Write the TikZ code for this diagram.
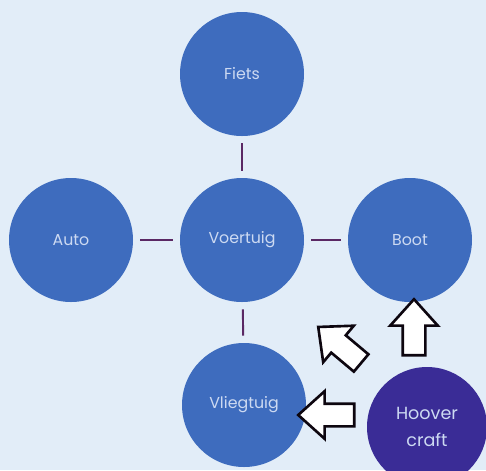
\documentclass[tikz,border=0pt]{standalone}
\usepackage{fontspec}
\setmainfont{Poppins}
\usepackage{tikz}
\usetikzlibrary{shapes.geometric}
\usetikzlibrary{arrows,shapes}

\definecolor{achter}{RGB}{226,237,248}
\definecolor{bolblauw}{RGB}{62,108,190}
\definecolor{bolpaars}{RGB}{58,44,150}
\definecolor{lijn}{RGB}{90,40,100}
\definecolor{tekst}{RGB}{205,218,242}

\begin{document}
\begin{tikzpicture}
\useasboundingbox (0,0) rectangle (9.72,-9.4);
\clip (0,0) rectangle (9.72,-9.4);
\fill[achter] (0,0) rectangle (9.72,-9.4);

\tikzstyle{bol}=[circle, fill=bolblauw, text=tekst, inner sep=0pt,
    minimum size = 2.48cm, font=\fontsize{9}{11}\selectfont, align=center]
\tikzstyle{verbind}=[draw=lijn, line width=1.1pt, shorten <=0.14cm, shorten >=0.14cm]
\tikzstyle{pijl}=[single arrow, draw=black!85!lijn, fill=white, line width=1.5pt,
    minimum height = 1.12cm, inner xsep=0pt, inner ysep=0.2cm,
    single arrow head extend=0.25cm, single arrow tip angle=84]

\node[bol] (f) at (4.84,-1.48) {Fiets};
\node[bol] (a) at (1.42,-4.8) {Auto};
\node[bol] (v) at (4.84,-4.8) {Voertuig};
\node[bol] (b) at (8.2,-4.8) {Boot};
\node[bol] (l) at (4.88,-8.1) {Vliegtuig};
\node[bol, fill=bolpaars, minimum size = 2.4cm,
    font=\fontsize{10}{15}\selectfont] (h) at (8.54,-8.54) {Hoover\\craft};

\draw[verbind] (v) -- (f);
\draw[verbind] (v) -- (a);
\draw[verbind] (v) -- (b);
\draw[verbind] (v) -- (l);

\node[pijl, rotate=90] (p1) at (8.28,-6.67) {};
\node[pijl, rotate=140] (p2) at (6.89,-6.98) {};
\node[pijl, rotate=180] (p3) at (6.65,-8.3) {};
\end{tikzpicture}
\end{document}
